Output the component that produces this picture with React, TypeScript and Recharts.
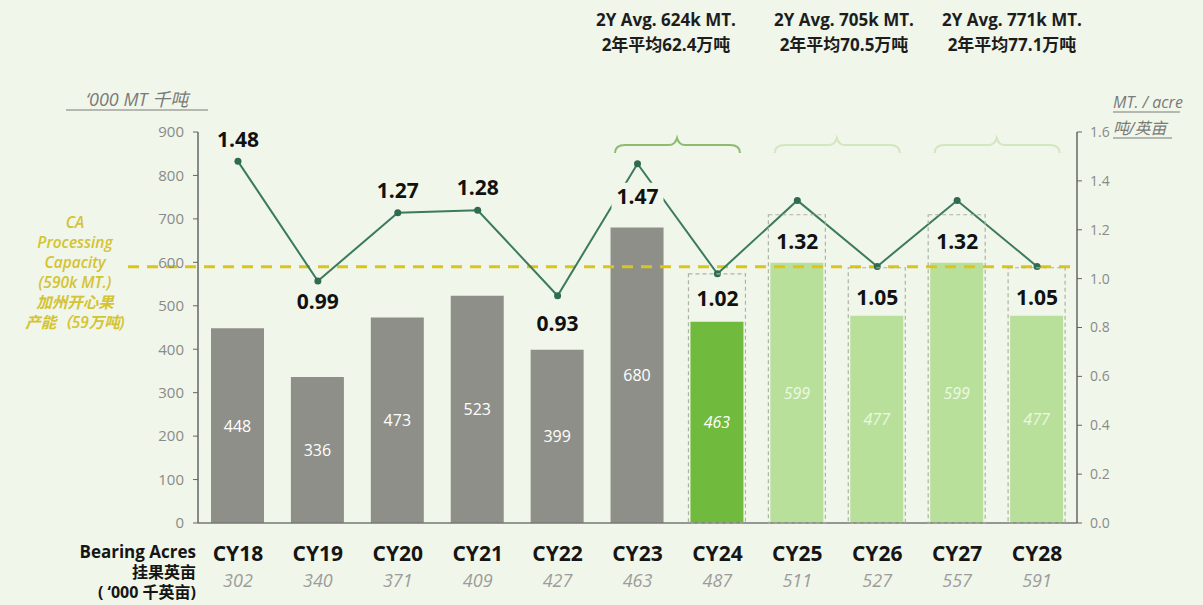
import {
  Bar,
  Cell,
  ComposedChart,
  LabelList,
  Line,
  ReferenceLine,
  XAxis,
  YAxis,
} from "recharts";

const years = ["CY18", "CY19", "CY20", "CY21", "CY22", "CY23", "CY24", "CY25", "CY26", "CY27", "CY28"];
const crop = [448, 336, 473, 523, 399, 680, 463, 599, 477, 599, 477];
const yieldPerAcre = [1.48, 0.99, 1.27, 1.28, 0.93, 1.47, 1.02, 1.32, 1.05, 1.32, 1.05];
const bearingAcres = [302, 340, 371, 409, 427, 463, 487, 511, 527, 557, 591];
const capacity = 590;
const leftTicks = [0, 100, 200, 300, 400, 500, 600, 700, 800, 900];
const rightTicks = [0, 0.2, 0.4, 0.6, 0.8, 1.0, 1.2, 1.4, 1.6];
const avgNotes = [
  ["2Y Avg. 624k MT.", "2年平均62.4万吨"],
  ["2Y Avg. 705k MT.", "2年平均70.5万吨"],
  ["2Y Avg. 771k MT.", "2年平均77.1万吨"],
];
const capacityNote = ["CA", "Processing", "Capacity", "(590k MT.)", "加州开心果", "产能（59万吨)"];

const data = years.map((year, i) => ({
  year,
  crop: crop[i],
  yield: yieldPerAcre[i],
}));

const W = 1203;
const H = 605;
const PLOT_L = 198;
const PLOT_R = 1077;
const BAND = (PLOT_R - PLOT_L) / years.length;
const BG = "#f0f6e9";
const FONT = "'Open Sans', 'Noto Sans CJK SC', sans-serif";

// layout only: where each yield label sits relative to its point
const yieldLabelDy = [-22, 20, -23, -23, 27, 32, 24, 41, 31, 41, 31];
const braceStarts = [5, 7, 9];
const noteX = [666, 844, 1012];

const barColor = (i: number) => (i < 6 ? "#8f8f89" : i === 6 ? "#70bb3d" : "#b8e09b");

const BarLabel = (props: any) => {
  const { x, y, width, height, value, index } = props;
  const cx = x + width / 2;
  const forecast = index >= 6;
  const brace = braceStarts.indexOf(index);
  let bracePath = "";
  if (brace >= 0) {
    const x1 = cx - 22;
    const x2 = cx + BAND + 23;
    const mid = cx + BAND / 2;
    bracePath = `M${x1},153 Q${x1},145 ${x1 + 10},145 L${mid - 8},145 Q${mid - 2},145 ${mid},138 Q${mid + 2},145 ${mid + 8},145 L${x2 - 10},145 Q${x2},145 ${x2},153`;
  }
  return (
    <g>
      {forecast && (
        <rect
          x={x - 2}
          y={y - 48}
          width={width + 4}
          height={height + 48}
          fill="none"
          stroke="#aeb3a6"
          strokeDasharray="4 3"
          strokeWidth={1.2}
        />
      )}
      {brace >= 0 && (
        <path d={bracePath} fill="none" stroke={brace === 0 ? "#8dbb6f" : "#d2e7c0"} strokeWidth={2} />
      )}
      <text
        x={cx}
        y={y + height / 2}
        textAnchor="middle"
        dominantBaseline="central"
        fontSize={16}
        fontFamily={FONT}
        fontStyle={forecast ? "italic" : "normal"}
        fill={index > 6 ? "#eef8e4" : "#ffffff"}
      >
        {value}
      </text>
    </g>
  );
};

const YieldLabel = (props: any) => {
  const { x, y, value, index } = props;
  const cy = y + yieldLabelDy[index];
  return (
    <g>
      {index === 5 && <rect x={x - 26} y={cy - 13} width={52} height={26} fill={BG} />}
      <text
        x={x}
        y={cy}
        textAnchor="middle"
        dominantBaseline="central"
        fontSize={21}
        fontWeight={700}
        fontFamily={FONT}
        fill="#111"
      >
        {Number(value).toFixed(2)}
      </text>
    </g>
  );
};

const XTick = (props: any) => {
  const { x, y, payload } = props;
  const i = payload.index;
  return (
    <g>
      <text x={x} y={y + 30} textAnchor="middle" fontSize={21} fontWeight={700} fontFamily={FONT} fill="#151515">
        {payload.value}
      </text>
      <text x={x} y={y + 56} textAnchor="middle" fontSize={18} fontStyle="italic" fontFamily={FONT} fill="#9c9c9c">
        {bearingAcres[i]}
      </text>
    </g>
  );
};

const CapacityLine = (props: any) => {
  const { x1, y1, x2 } = props;
  return (
    <line x1={x1 - 70} y1={y1} x2={x2} y2={y1} stroke="#d9c51c" strokeWidth={3} strokeDasharray="11 8" />
  );
};

export default function App() {
  return (
    <div
      style={{
        position: "absolute",
        left: 0,
        top: 0,
        width: W,
        height: H,
        background: BG,
        fontFamily: FONT,
      }}
    >
      <ComposedChart
        width={W}
        height={H}
        data={data}
        margin={{ top: 132, right: 68, bottom: 22, left: 140 }}
        barCategoryGap={0}
      >
        <XAxis
          dataKey="year"
          xAxisId="x"
          height={60}
          tick={<XTick />}
          tickLine={false}
          axisLine={{ stroke: "#777", strokeWidth: 1.5 }}
          interval={0}
        />
        <YAxis
          yAxisId="left"
          width={58}
          domain={[0, 900]}
          ticks={leftTicks}
          tickSize={5}
          tickMargin={9}
          tick={{ fontSize: 15, fill: "#8a8a8a", fontFamily: FONT }}
          tickLine={{ stroke: "#666" }}
          axisLine={{ stroke: "#666", strokeWidth: 1.5 }}
        />
        <YAxis
          yAxisId="right"
          orientation="right"
          width={58}
          domain={[0, 1.6]}
          ticks={rightTicks}
          tickFormatter={(v: number) => v.toFixed(1)}
          tickSize={5}
          tickMargin={8}
          tick={{ fontSize: 14, fill: "#8a8a8a", fontFamily: FONT }}
          tickLine={{ stroke: "#666" }}
          axisLine={{ stroke: "#666", strokeWidth: 1.5 }}
        />
        <Bar dataKey="crop" xAxisId="x" yAxisId="left" barSize={53} isAnimationActive={false}>
          {data.map((d, i) => (
            <Cell key={d.year} fill={barColor(i)} />
          ))}
          <LabelList dataKey="crop" content={<BarLabel />} />
        </Bar>
        <ReferenceLine
          xAxisId="x"
          yAxisId="left"
          y={capacity}
          shape={<CapacityLine />}
        />
        <Line
          dataKey="yield"
          xAxisId="x"
          yAxisId="right"
          stroke="#3b7b5c"
          strokeWidth={2}
          dot={{ r: 3.5, fill: "#2f6b50", stroke: "none" }}
          isAnimationActive={false}
        >
          <LabelList dataKey="yield" content={<YieldLabel />} />
        </Line>
      </ComposedChart>

      <svg
        width={W}
        height={H}
        style={{ position: "absolute", left: 0, top: 0, pointerEvents: "none" }}
        fontFamily={FONT}
      >
        {avgNotes.map((n, i) => (
          <g key={i}>
            <text x={noteX[i]} y={26} textAnchor="middle" fontSize={17} fontWeight={700} fill="#1d1d1d">
              {n[0]}
            </text>
            <text x={noteX[i]} y={51} textAnchor="middle" fontSize={17} fontWeight={700} fill="#1d1d1d">
              {n[1]}
            </text>
          </g>
        ))}
        <text x={86} y={106} fontSize={18} fontStyle="italic" fill="#7a7a7a">
          ‘000 MT 千吨
        </text>
        <line x1={66} y1={110} x2={208} y2={110} stroke="#7a7a7a" strokeWidth={1} />
        <text x={1113} y={108} fontSize={16} fontStyle="italic" fill="#7a7a7a">
          MT. / acre
        </text>
        <line x1={1113} y1={112} x2={1180} y2={112} stroke="#7a7a7a" strokeWidth={1} />
        <text x={1113} y={134} fontSize={16} fontStyle="italic" fill="#7a7a7a">
          吨/英亩
        </text>
        <line x1={1113} y1={138} x2={1172} y2={138} stroke="#7a7a7a" strokeWidth={1} />
        {capacityNote.map((t, i) => (
          <text
            key={i}
            x={75}
            y={228 + i * 20}
            textAnchor="middle"
            fontSize={15.5}
            fontStyle="italic"
            fontWeight={600}
            fill="#d4c333"
          >
            {t}
          </text>
        ))}
        <text x={196} y={558} textAnchor="end" fontSize={17} fontWeight={700} fill="#151515">
          Bearing Acres
        </text>
        <text x={196} y={578} textAnchor="end" fontSize={16} fontWeight={700} fill="#151515">
          挂果英亩
        </text>
        <text x={196} y={598} textAnchor="end" fontSize={16} fontWeight={700} fill="#151515">
          (  ‘000 千英亩)
        </text>
      </svg>
    </div>
  );
}
